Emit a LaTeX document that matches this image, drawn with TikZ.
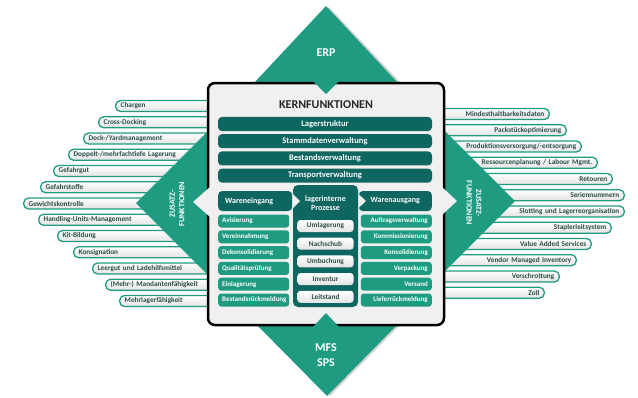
\documentclass[tikz,border=0pt]{standalone}
\usepackage{fontspec}
\setmainfont{Carlito}
\definecolor{zgreen}{HTML}{1E9B80}
\definecolor{zdark}{HTML}{0D6660}
\definecolor{zbox}{HTML}{F0F0F0}
\definecolor{ztext}{HTML}{2A4C48}
\tikzset{
  pill/.style={draw=zgreen, line width=1.3pt, rounded corners=5pt, inner xsep=5pt,
    inner ysep=0pt, minimum height=11pt, text=ztext, top color=white, bottom color=gray!22,
    font=\bfseries\fontsize{7.3}{8}\selectfont},
  lpill/.style={pill, anchor=west, align=left},
  rpill/.style={pill, anchor=east, align=right},
  bar/.style={fill=zdark, rounded corners=4pt, text=white, minimum height=14pt,
    minimum width=214pt, font=\bfseries\fontsize{8.5}{9}\selectfont},
  item/.style={fill=zgreen, rounded corners=3pt, text=white, minimum height=13pt,
    inner xsep=4pt, inner ysep=0pt, text width=63pt, font=\bfseries\fontsize{7}{8}\selectfont},
  litem/.style={item, anchor=west, align=left},
  ritem/.style={item, anchor=east, align=right},
  lpitem/.style={top color=white, bottom color=gray!22, rounded corners=3pt, text=ztext,
    minimum height=12pt, minimum width=56pt, inner ysep=0pt,
    font=\bfseries\fontsize{7.3}{8}\selectfont},
  head/.style={fill=zdark, rounded corners=4pt, text=white, minimum height=20pt,
    font=\bfseries\fontsize{8}{9}\selectfont},
  sidelabel/.style={text=white, align=center, font=\bfseries\fontsize{8}{9.5}\selectfont},
  biglabel/.style={text=white, align=center, font=\bfseries\fontsize{12}{15}\selectfont}
}
\begin{document}
\begin{tikzpicture}[x=1pt, y=-1pt]
  \useasboundingbox (0,0) rectangle (638,397);
  % Zusatzfunktionen links
  \foreach \x/\t [count=\i from 0] in {115/Chargen, 98/Cross-Docking, 83/{Dock-/Yardmanagement},
      68/{Doppelt-/mehrfachtiefe Lagerung}, 53/Gefahrgut, 40/Gefahrstoffe, 23/Gewichtskontrolle,
      38/Handling-Units-Management, 57/Kit-Bildung, 73/Konsignation, 92/{Leergut und Ladehilfsmittel},
      105/{(Mehr-) Mandantenfähigkeit}, 119/Mehrlagerfähigkeit}
  {
    \pgfmathsetmacro\w{202-\x}
    \node[lpill, text width=\w pt] (l\i) at (\x,106+16.25*\i) {\t};
  }
  % Zusatzfunktionen rechts
  \foreach \x/\t [count=\i from 0] in {550/Mindesthaltbarkeitsdaten, 567/Packstückoptimierung,
      582/{Produktionsversorgung/-entsorgung}, 598/{Ressourcenplanung / Labour Mgmt.}, 613/Retouren,
      625/Seriennummern, 625/{Slotting und Lagerreorganisation}, 612/Staplerleitsystem,
      592/{Value Added Services}, 577/{Vendor Managed Inventory}, 560/Verschrottung, 545/Zoll}
  {
    \pgfmathsetmacro\w{\x-450}
    \node[rpill, text width=\w pt] (r\i) at (\x,114+16.25*\i) {\t};
  }
  % Dreiecke
  \fill[zgreen] (136,203) -- (210,129) -- (210,277) -- cycle;
  \fill[zgreen] (515,201) -- (442,128) -- (442,274) -- cycle;
  \fill[gray!35] (257,83) -- (329,7) -- (401,83) -- cycle;
  \fill[zgreen] (254,83) -- (326,6) -- (398,83) -- cycle;
  \fill[gray!35] (259,324) -- (401,324) -- (330,396) -- cycle;
  \fill[zgreen] (256,324) -- (398,324) -- (327,396) -- cycle;
  \node[sidelabel, rotate=90] (zl) at (177,204) {ZUSATZ-\\FUNKTIONEN};
  \node[sidelabel, rotate=-90] (zr) at (474,203) {ZUSATZ-\\FUNKTIONEN};
  \node[biglabel] (erp) at (326,53) {ERP};
  \node[biglabel] (mfs) at (326,355) {MFS\\SPS};
  % Kernfunktionen
  \draw[line width=2.5pt, rounded corners=7pt, fill=zbox] (208,83) rectangle (444,325);
  \fill[zgreen] (312,80) -- (340,80) -- (326,94) -- cycle;
  \fill[zgreen] (312,328) -- (340,328) -- (326,313) -- cycle;
  \fill[zbox] (210,187) -- (193,202) -- (210,217) -- cycle;
  \fill[zbox] (442,187) -- (457,201) -- (442,215) -- cycle;
  \node[font=\bfseries\fontsize{12}{14}\selectfont, text=black!85] (title) at (326,105) {KERNFUNKTIONEN};
  \foreach \t [count=\i from 0] in {Lagerstruktur, Stammdatenverwaltung, Bestandsverwaltung, Transportverwaltung}
    \node[bar] (b\i) at (325,124+17.2*\i) {\t};
  \node[head, minimum width=74pt, anchor=west, text width=60pt, inner xsep=7pt] (we) at (218,201) {Wareneingang};
  \node[head, minimum width=73pt, anchor=east] (wa) at (432,201) {Warenausgang};
  \node[fill=zdark, rounded corners=5pt, minimum width=65pt, minimum height=122pt] (lp) at (325.5,246) {};
  \fill[zbox] (293,194) -- (300,201) -- (293,208) -- cycle;
  \fill[zbox] (358.5,194) -- (366,201) -- (358.5,208) -- cycle;
  \node[sidelabel] (lph) at (325.5,203) {lagerinterne\\Prozesse};
  \foreach \t [count=\i from 0] in {Avisierung, Vereinnahmung, Dekonsolidierung, Qualitätsprüfung, Einlagerung, Bestandsrückmeldung}
    \node[litem] (we\i) at (218,221+15.8*\i) {\t};
  \foreach \t [count=\i from 0] in {Auftragsverwaltung, Kommissionierung, Konsolidierung, Verpackung, Versand, Lieferrückmeldung}
    \node[ritem] (wa\i) at (432,221+15.8*\i) {\t};
  \foreach \t [count=\i from 0] in {Umlagerung, Nachschub, Umbuchung, Inventur, Leitstand}
    \node[lpitem] (lp\i) at (325.5,226+17.7*\i) {\t};
\end{tikzpicture}
\end{document}
